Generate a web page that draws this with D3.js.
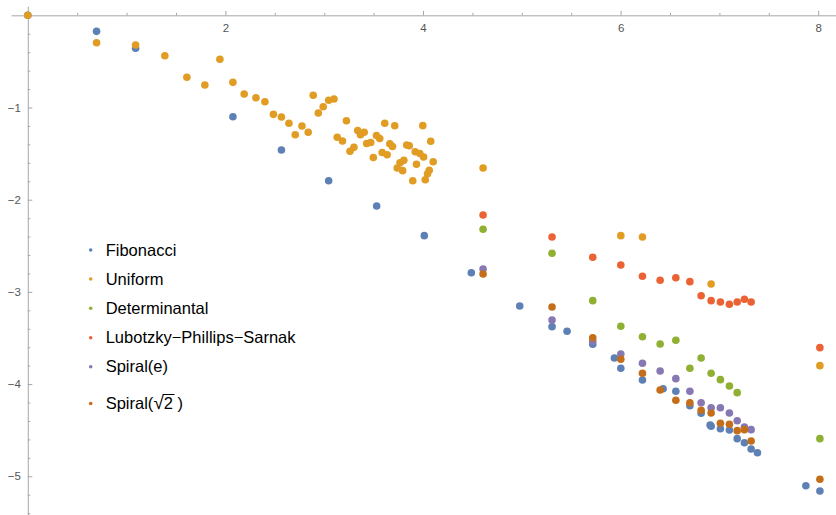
<!DOCTYPE html>
<html><head><meta charset="utf-8">
<script src="https://cdn.jsdelivr.net/npm/d3@7"></script>
<style>
html,body{margin:0;padding:0;background:#fff;}
svg{display:block;}
text{font-family:"Liberation Sans",Arial,Helvetica,sans-serif;}
</style></head>
<body><svg id="chart" width="836" height="515"></svg>
<script>
// ---- data ----
const seriesNames = ["Fibonacci","Uniform","Determinantal","Lubotzky\u2212Phillips\u2212Sarnak","Spiral(e)","Spiral(\u221A2)"];
const seriesColors = ["#5E81B5","#E19C24","#8FB032","#EB6235","#8778B3","#C56E1A"];

const fibX = [0,0.696,1.091,2.076,2.567,3.045,3.531,4.013,4.489,4.979,5.306,5.458,5.718,5.937,6.002,6.221,6.430,6.559,6.701,6.815,6.906,6.916,7.010,7.101,7.180,7.253,7.321,7.385,7.875,8.017];
const fibY = [0,-0.174,-0.358,-1.100,-1.461,-1.794,-2.068,-2.390,-2.792,-3.153,-3.377,-3.427,-3.568,-3.717,-3.829,-3.955,-4.050,-4.078,-4.234,-4.317,-4.444,-4.456,-4.484,-4.498,-4.592,-4.636,-4.704,-4.744,-5.102,-5.159];

const uniX = [0,0.696,1.091,1.387,1.610,1.792,1.944,2.076,2.190,2.309,2.400,2.486,2.567,2.643,2.707,2.775,2.838,2.889,2.940,2.990,3.045,3.099,3.132,3.185,3.225,3.261,3.301,3.339,3.367,3.405,3.430,3.471,3.497,3.529,3.562,3.587,3.613,3.637,3.664,3.691,3.714,3.739,3.767,3.794,3.806,3.835,3.861,3.896,3.921,3.934,3.968,3.998,4.006,4.023,4.046,4.063,4.078,4.103,4.608,6.002,6.221,6.916,8.017];
const uniY = [0,-0.297,-0.322,-0.438,-0.672,-0.756,-0.477,-0.727,-0.854,-0.894,-0.937,-1.074,-1.103,-1.171,-1.295,-1.201,-1.269,-0.867,-1.060,-0.991,-0.921,-0.908,-1.323,-1.363,-1.143,-1.475,-1.432,-1.249,-1.296,-1.269,-1.390,-1.380,-1.542,-1.304,-1.336,-1.488,-1.171,-1.513,-1.393,-1.423,-1.198,-1.656,-1.600,-1.685,-1.573,-1.407,-1.414,-1.794,-1.480,-1.615,-1.499,-1.197,-1.537,-1.783,-1.718,-1.681,-1.366,-1.588,-1.656,-2.390,-2.405,-2.914,-3.800];

const detX = [4.608,5.306,5.718,6.002,6.221,6.400,6.559,6.701,6.815,6.916,7.010,7.101,7.180,8.017];
const detY = [-2.321,-2.581,-3.095,-3.373,-3.486,-3.565,-3.525,-3.829,-3.717,-3.883,-3.952,-4.021,-4.093,-4.592];

const lpsX = [4.608,5.306,5.718,6.002,6.221,6.400,6.559,6.701,6.815,6.916,7.010,7.101,7.180,7.253,7.321,8.017];
const lpsY = [-2.166,-2.405,-2.625,-2.708,-2.831,-2.874,-2.846,-2.889,-3.041,-3.095,-3.110,-3.134,-3.110,-3.080,-3.110,-3.605];

const spEX = [4.608,5.306,5.718,6.002,6.221,6.400,6.559,6.701,6.815,6.916,7.010,7.101,7.180,7.253,7.321];
const spEY = [-2.752,-3.305,-3.536,-3.674,-3.774,-3.858,-3.941,-4.078,-4.202,-4.256,-4.256,-4.313,-4.397,-4.465,-4.494];

const spRX = [4.608,5.306,5.718,6.002,6.221,6.400,6.559,6.701,6.815,6.916,7.010,7.101,7.180,7.253,7.321,8.017];
const spRY = [-2.806,-3.164,-3.497,-3.731,-3.883,-4.064,-4.176,-4.202,-4.284,-4.313,-4.425,-4.436,-4.505,-4.494,-4.617,-5.033];

const xTickValues = [2,4,6,8];
const xTickLabels = ["2","4","6","8"];
const yTickValues = [-1,-2,-3,-4,-5];
const yTickLabels = ["\u22121","\u22122","\u22123","\u22124","\u22125"];
const xMinorTicks = [0.5,1,1.5,2.5,3,3.5,4.5,5,5.5,6.5,7,7.5];
const yMinorTicks = [-0.2,-0.4,-0.6,-0.8,-1.2,-1.4,-1.6,-1.8,-2.2,-2.4,-2.6,-2.8,-3.2,-3.4,-3.6,-3.8,-4.2,-4.4,-4.6,-4.8,-5.2,-5.4];

// ---- chart ----
const svg = d3.select("#chart");
const x = d3.scaleLinear().domain([-0.17, 8.18]).range([11, 836]);
const y = d3.scaleLinear().domain([0.1, -5.42]).range([6.1, 515]);

const axisColor = "#a6a6a6";
const labelColor = "#555555";

// x axis: ticks pointing up, labels below
const gx = svg.append("g").attr("transform", `translate(0,${y(0)})`);
gx.call(d3.axisBottom(x).tickValues(xTickValues).tickFormat((d,i)=>xTickLabels[i]).tickSizeInner(-4.5).tickSizeOuter(0).tickPadding(8.5));
const gxm = svg.append("g").attr("transform", `translate(0,${y(0)})`);
gxm.call(d3.axisBottom(x).tickValues(xMinorTicks).tickFormat("").tickSizeInner(-2.5).tickSizeOuter(0));
gxm.select(".domain").remove();

// y axis: ticks pointing right, labels left
const gy = svg.append("g").attr("transform", `translate(${x(0)},0)`);
gy.call(d3.axisLeft(y).tickValues(yTickValues).tickFormat((d,i)=>yTickLabels[i]).tickSizeInner(-4.5).tickSizeOuter(0).tickPadding(7));
const gym = svg.append("g").attr("transform", `translate(${x(0)},0)`);
gym.call(d3.axisLeft(y).tickValues(yMinorTicks).tickFormat("").tickSizeInner(-2.5).tickSizeOuter(0));
gym.select(".domain").remove();

svg.selectAll(".domain").attr("stroke", axisColor).attr("stroke-width", 1);
svg.selectAll(".tick line").attr("stroke", axisColor).attr("stroke-width", 1);
svg.selectAll(".tick text").attr("fill", labelColor).style("font-size", "11.5px").style("font-family", "'Liberation Sans',Arial,sans-serif");

// series points
const seriesX = [fibX, uniX, detX, lpsX, spEX, spRX];
const seriesY = [fibY, uniY, detY, lpsY, spEY, spRY];
seriesX.forEach((xs, s) => {
  const pts = xs.map((v, i) => [v, seriesY[s][i]]);
  svg.append("g").selectAll("circle").data(pts).join("circle")
    .attr("cx", d => x(d[0])).attr("cy", d => y(d[1]))
    .attr("r", 3.8).attr("fill", seriesColors[s]);
});

// legend
const legendRows = [250, 279, 308.3, 337.7, 366.7, 403.5];
const lg = svg.append("g");
seriesNames.forEach((name, i) => {
  lg.append("circle").attr("cx", 90.7).attr("cy", legendRows[i]).attr("r", 1.8).attr("fill", seriesColors[i]);
  const t = lg.append("text").attr("x", 105.7).attr("y", legendRows[i] + 5.7)
    .attr("fill", "#000").style("font-size", "16.5px");
  if (i === 5) {
    t.append("tspan").text("Spiral(");
    t.append("tspan").text("\u221A").style("font-size", "19px");
    t.append("tspan").text("2");
    t.append("tspan").text(" )");
    const n = t.node();
    const start = n.getStartPositionOfChar(8);
    const end = n.getEndPositionOfChar(8);
    lg.append("line").attr("x1", start.x - 1).attr("x2", end.x + 1.5)
      .attr("y1", legendRows[i] - 9).attr("y2", legendRows[i] - 9)
      .attr("stroke", "#000").attr("stroke-width", 1);
  } else {
    t.text(name);
  }
});
</script></body></html>
